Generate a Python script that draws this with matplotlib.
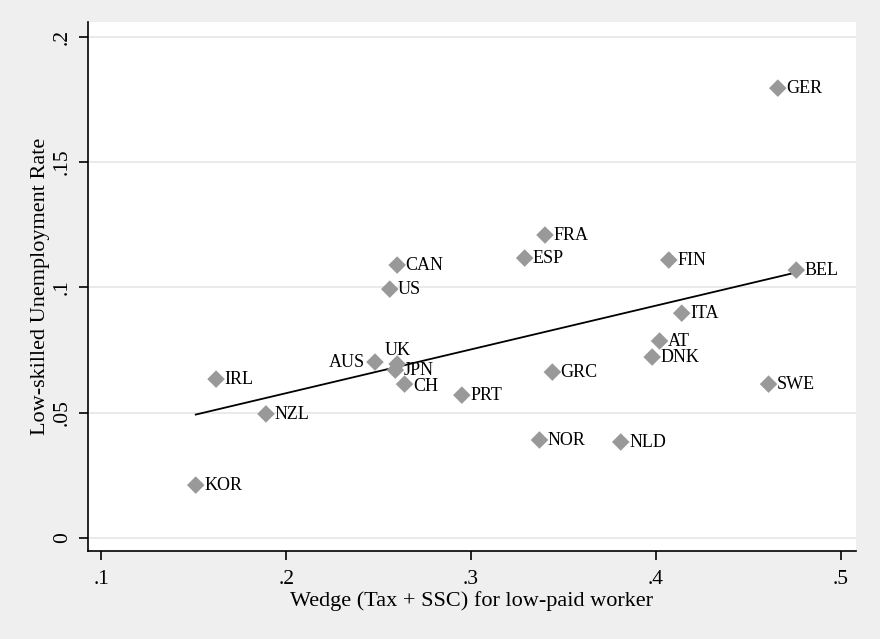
import matplotlib
matplotlib.use("Agg")
import matplotlib.pyplot as plt
import numpy as np

# wedge (tax + ssc) and low-skilled unemployment
countries = ["GER", "BEL", "FRA", "ESP", "FIN", "CAN", "US", "ITA", "AT", "DNK",
             "SWE", "GRC", "PRT", "NOR", "NLD", "UK", "JPN", "AUS", "CH", "IRL",
             "NZL", "KOR"]
wedge = [0.466, 0.476, 0.340, 0.329, 0.407, 0.260, 0.256, 0.414, 0.402, 0.398,
         0.461, 0.344, 0.295, 0.337, 0.381, 0.260, 0.259, 0.248, 0.264, 0.162,
         0.189, 0.151]
unemp = [0.1795, 0.1069, 0.1209, 0.1117, 0.1109, 0.1089, 0.0993, 0.0897, 0.0786, 0.0722,
         0.0614, 0.0662, 0.0570, 0.0391, 0.0383, 0.0694, 0.0670, 0.0702, 0.0614, 0.0634,
         0.0495, 0.0211]
# where the label goes relative to the marker
label_pos = {"AUS": "left", "UK": "top"}

xticks = [0.1, 0.2, 0.3, 0.4, 0.5]
xtick_labels = [".1", ".2", ".3", ".4", ".5"]
yticks = [0, 0.05, 0.1, 0.15, 0.2]
ytick_labels = ["0", ".05", ".1", ".15", ".2"]

plt.rcParams['font.family'] = ['Liberation Serif', 'DejaVu Serif']

fig = plt.figure(figsize=(8.8, 6.39), dpi=100, facecolor="#efefef")
ax = fig.add_axes([0.1, 0.1377, 0.8727, 0.8279])
ax.set_facecolor("white")

x = np.array(wedge)
y = np.array(unemp)

for yt in yticks:
    ax.axhline(yt, color="#e6e6e6", lw=1.2, zorder=0)

ax.scatter(x, y, marker="D", s=80, color="#999999", edgecolors="none", zorder=3)

for c, xi, yi in zip(countries, x, y):
    pos = label_pos.get(c, "right")
    if pos == "left":
        ax.annotate(c, (xi, yi), xytext=(-7, 0), textcoords="offset points",
                    ha="right", va="center", fontsize=13)
    elif pos == "top":
        ax.annotate(c, (xi, yi), xytext=(0, 4), textcoords="offset points",
                    ha="center", va="bottom", fontsize=13)
    else:
        dy = -1.5 if c == "CH" else -0.5
        ax.annotate(c, (xi, yi), xytext=(6, dy), textcoords="offset points",
                    ha="left", va="center", fontsize=13)

# linear fit
b, a = np.polyfit(x, y, 1)
xf = np.array([x.min(), x.max()])
ax.plot(xf, a + b * xf, color="black", lw=1.3, zorder=2)

ax.set_xlim(0.0927, 0.5083)
ax.set_ylim(-0.0052, 0.2059)
ax.set_xticks(xticks)
ax.set_xticklabels(xtick_labels)
ax.set_yticks(yticks)
ax.set_yticklabels(ytick_labels, rotation=90, va="center")

for s in ["top", "right"]:
    ax.spines[s].set_visible(False)
for s in ["left", "bottom"]:
    ax.spines[s].set_linewidth(1.2)
ax.tick_params(direction="out", length=6.5, width=1.2, labelsize=15.5)
ax.tick_params(axis="x", pad=7)
ax.tick_params(axis="y", pad=5)

ax.set_xlabel("Wedge (Tax + SSC) for low-paid worker", fontsize=16, labelpad=2)
ax.set_ylabel("Low-skilled Unemployment Rate", fontsize=16, labelpad=2.5)

fig.savefig("out.png", dpi=100, facecolor=fig.get_facecolor())
